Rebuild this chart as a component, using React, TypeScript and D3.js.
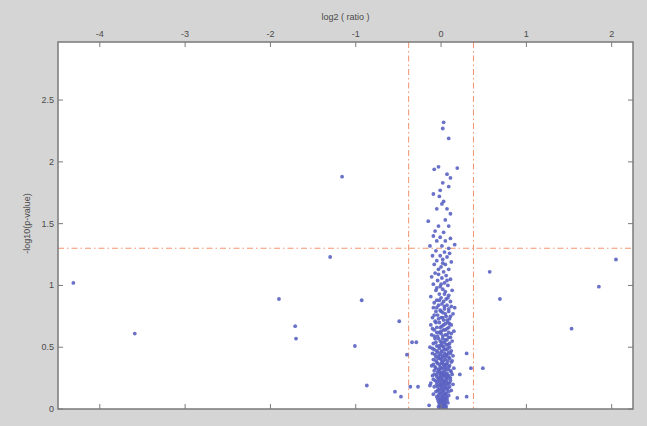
import React from "react";
import * as d3 from "d3";

const xTicks = [-4, -3, -2, -1, 0, 1, 2];
const yTicks = [0, 0.5, 1, 1.5, 2, 2.5];
const xTickLabels = ["-4", "-3", "-2", "-1", "0", "1", "2"];
const yTickLabels = ["0", "0.5", "1", "1.5", "2", "2.5"];
const foldCut = 0.38;
const pCut = 1.301;

const outliers: [number, number][] = [
  [-4.31, 1.02], [-3.59, 0.61], [-1.9, 0.89], [-1.71, 0.67], [-1.7, 0.57], [-1.3, 1.23],
  [-1.16, 1.88], [-0.93, 0.88], [-1.01, 0.51], [-0.87, 0.19], [-0.54, 0.14], [-0.49, 0.71],
  [-0.4, 0.44], [-0.34, 0.54], [-0.29, 0.54], [-0.47, 0.1], [-0.36, 0.18], [-0.27, 0.18],
  [-0.14, 0.03], [-0.13, 0.19], [2.05, 1.21], [1.85, 0.99], [1.53, 0.65], [0.69, 0.89],
  [0.57, 1.11], [0.3, 0.45], [0.35, 0.33], [0.49, 0.33], [0.22, 0.28], [0.3, 0.1],
  [0.19, 0.09], [0.16, 0.82],
];

const clusterHigh: [number, number][] = [
  [0.03, 2.32], [0.02, 2.27], [0.09, 2.19], [-0.08, 1.94], [-0.03, 1.96], [0.19, 1.95],
  [0.07, 1.9], [0.11, 1.87], [0.02, 1.83], [0.09, 1.8], [-0.01, 1.77], [-0.09, 1.74],
  [-0.02, 1.72], [0.03, 1.68], [0.01, 1.66], [-0.05, 1.62], [0.07, 1.62], [0.11, 1.58],
  [0.05, 1.53], [-0.15, 1.52], [-0.03, 1.48], [0.09, 1.48], [-0.07, 1.44], [0.03, 1.43],
  [-0.09, 1.4], [-0.01, 1.39], [0.11, 1.38], [-0.05, 1.36], [0.05, 1.36], [0.16, 1.33],
  [-0.13, 1.32], [0.01, 1.32], [0.09, 1.3],
];

const clusterMid: [number, number][] = [
  [-0.06, 1.28], [0.04, 1.27], [0.1, 1.26], [-0.1, 1.24], [-0.01, 1.24], [0.07, 1.23],
  [0.02, 1.21], [-0.05, 1.2], [0.12, 1.19], [-0.08, 1.17], [0.05, 1.17], [0.0, 1.15],
  [-0.03, 1.13], [0.09, 1.13], [0.03, 1.11], [-0.07, 1.1], [0.06, 1.08], [-0.11, 1.07],
  [0.01, 1.06], [0.11, 1.05], [-0.04, 1.04], [0.04, 1.02], [-0.09, 1.01], [0.08, 1.0],
  [-0.01, 0.99], [0.02, 0.97], [-0.06, 0.96], [0.13, 0.96], [0.05, 0.95], [-0.02, 0.93],
  [0.09, 0.92], [-0.12, 0.91], [0.0, 0.9], [0.06, 0.89], [-0.05, 0.88], [0.03, 0.87],
  [0.11, 0.87], [-0.08, 0.86],
  [0.02, 1.18], [-0.03, 1.09], [0.07, 1.04], [0.0, 1.01], [-0.05, 0.98], [0.04, 0.93],
  [0.08, 0.9], [-0.02, 0.88],
];

const clusterLow: [number, number][] = [
  [0.01, 0.85], [-0.03, 0.84], [0.07, 0.84], [0.12, 0.83], [-0.09, 0.82], [0.04, 0.81],
  [-0.01, 0.8], [0.09, 0.79], [-0.06, 0.79], [0.02, 0.78], [0.14, 0.77], [-0.04, 0.76],
  [0.06, 0.75], [-0.1, 0.74], [0.0, 0.74], [0.1, 0.73], [0.03, 0.72], [-0.07, 0.71],
  [0.08, 0.7], [-0.02, 0.7], [0.05, 0.69], [-0.12, 0.68], [0.12, 0.68], [0.01, 0.67],
  [-0.05, 0.66], [0.07, 0.65], [-0.08, 0.64], [0.03, 0.64], [0.15, 0.63], [-0.02, 0.62],
  [0.09, 0.62], [0.0, 0.61], [-0.11, 0.6], [0.05, 0.6], [-0.04, 0.59], [0.11, 0.58],
  [0.02, 0.57], [-0.07, 0.57], [0.07, 0.56], [-0.01, 0.55], [0.13, 0.55], [0.04, 0.54],
  [-0.09, 0.53], [0.0, 0.52], [0.08, 0.52], [-0.05, 0.51], [0.03, 0.5], [0.1, 0.5],
  [-0.13, 0.5],
  [-0.02, 0.49], [0.06, 0.48], [-0.08, 0.48], [0.12, 0.47], [0.01, 0.47], [-0.04, 0.46],
  [0.09, 0.46], [0.04, 0.45], [-0.1, 0.45], [-0.01, 0.44], [0.07, 0.44], [0.14, 0.43],
  [0.02, 0.43], [-0.06, 0.42], [0.05, 0.42], [-0.03, 0.41], [0.1, 0.41], [0.0, 0.4],
  [-0.09, 0.4], [0.08, 0.39], [0.03, 0.39], [-0.05, 0.38], [0.12, 0.38], [0.01, 0.37],
  [-0.02, 0.36], [0.06, 0.36], [-0.11, 0.35], [0.04, 0.35], [0.09, 0.34], [-0.07, 0.34],
  [0.0, 0.33], [0.15, 0.33], [-0.03, 0.32], [0.05, 0.32], [0.11, 0.31], [-0.08, 0.31],
  [0.02, 0.3], [-0.01, 0.29], [0.07, 0.29], [-0.05, 0.28], [0.13, 0.28], [0.03, 0.27],
  [-0.1, 0.27], [0.09, 0.26], [0.0, 0.26], [-0.03, 0.25], [0.06, 0.25], [0.01, 0.24],
  [-0.07, 0.23], [0.11, 0.23], [0.04, 0.22], [-0.02, 0.22], [0.08, 0.21], [-0.12, 0.21],
  [0.02, 0.2], [-0.05, 0.2], [0.14, 0.2],
  [0.05, 0.19], [-0.01, 0.19], [0.1, 0.18], [-0.08, 0.18], [0.03, 0.17], [0.0, 0.16],
  [0.07, 0.16], [-0.04, 0.15], [0.12, 0.15], [0.02, 0.14], [-0.02, 0.13], [0.06, 0.13],
  [-0.09, 0.12], [0.04, 0.12], [0.09, 0.11], [0.01, 0.11], [-0.05, 0.1], [0.03, 0.09],
  [0.07, 0.09], [-0.01, 0.08], [0.05, 0.08], [0.0, 0.07], [-0.03, 0.06], [0.04, 0.06],
  [0.08, 0.05], [0.02, 0.05], [-0.02, 0.04], [0.01, 0.03], [0.05, 0.03], [-0.01, 0.02],
  [0.03, 0.02], [0.0, 0.01], [0.04, 0.01], [0.02, 0.0], [-0.02, 0.0], [0.06, 0.0],
];

const clusterDense: [number, number][] = [
  [0.04, 0.83], [-0.05, 0.82], [0.09, 0.81], [0.0, 0.79], [0.05, 0.77], [-0.08, 0.76],
  [0.11, 0.75], [0.02, 0.74], [-0.03, 0.73], [0.07, 0.72], [-0.06, 0.7], [0.1, 0.69],
  [0.03, 0.68], [-0.01, 0.66], [0.09, 0.66], [-0.1, 0.65], [0.05, 0.64], [0.0, 0.63],
  [-0.05, 0.62], [0.12, 0.61], [0.07, 0.6], [0.02, 0.59], [-0.08, 0.59], [0.09, 0.58],
  [-0.03, 0.57], [0.05, 0.56], [0.01, 0.54], [-0.06, 0.54], [0.1, 0.53], [0.06, 0.52],
  [-0.02, 0.51], [0.02, 0.51], [-0.1, 0.49], [0.08, 0.49], [0.04, 0.48], [-0.05, 0.47],
  [0.0, 0.46], [0.11, 0.45], [0.06, 0.44], [-0.07, 0.44], [0.02, 0.42], [-0.03, 0.43],
  [0.09, 0.42], [-0.01, 0.41], [0.05, 0.4], [-0.06, 0.39], [0.13, 0.39], [0.01, 0.38],
  [0.07, 0.37], [-0.04, 0.37], [0.03, 0.36], [-0.09, 0.36], [0.1, 0.35], [-0.01, 0.34],
  [0.05, 0.34], [0.02, 0.33], [-0.06, 0.33], [0.08, 0.32], [-0.02, 0.31], [0.04, 0.3],
  [-0.04, 0.3], [0.12, 0.3], [0.0, 0.29], [0.06, 0.28], [-0.08, 0.28], [0.03, 0.28],
  [0.09, 0.27], [-0.01, 0.27], [0.05, 0.26], [-0.05, 0.26], [0.01, 0.25], [0.11, 0.25],
  [0.07, 0.24], [-0.03, 0.24], [0.03, 0.23], [-0.09, 0.24], [0.0, 0.22], [0.06, 0.22],
  [-0.05, 0.22], [0.1, 0.21], [0.03, 0.21], [-0.01, 0.2], [0.07, 0.2], [0.01, 0.18],
  [-0.04, 0.18], [0.05, 0.17], [0.08, 0.17], [-0.02, 0.16], [0.03, 0.15], [0.09, 0.14],
  [-0.06, 0.14], [0.0, 0.13], [0.05, 0.12], [-0.03, 0.11], [0.02, 0.1], [0.06, 0.1],
  [-0.01, 0.09], [0.04, 0.08], [0.01, 0.07], [0.07, 0.07], [-0.04, 0.08], [0.02, 0.06],
  [0.05, 0.05], [-0.01, 0.05], [0.03, 0.04], [0.0, 0.03], [0.06, 0.02], [0.02, 0.02],
  [-0.03, 0.02], [0.04, 0.0], [0.0, 0.0], [0.01, 0.01],
];

const W = 647;
const H = 426;
const left = 58;
const right = 633;
const top = 42;
const bottom = 409;

export default function App() {
  const x = d3.scaleLinear().domain([-4.49, 2.25]).range([left, right]);
  const y = d3.scaleLinear().domain([0, 2.97]).range([bottom, top]);
  const pts = [...outliers, ...clusterHigh, ...clusterMid, ...clusterLow, ...clusterDense];
  const axisColor = "#7a7a7a";
  const textColor = "#4a4a4a";
  const font = "Liberation Sans, Arial, sans-serif";
  const tl = 5;
  const dash = "#f2946f";
  return (
    <div style={{ position: "fixed", left: 0, top: 0 }}>
      <svg width={W} height={H} style={{ display: "block" }}>
        <rect x={0} y={0} width={W} height={H} fill="#d5d5d5" />
        <rect x={left} y={top} width={right - left} height={bottom - top} fill="#ffffff" />
        <defs>
          <clipPath id="plot">
            <rect x={left} y={top} width={right - left} height={bottom - top} />
          </clipPath>
        </defs>
        <g clipPath="url(#plot)">
          <line x1={left} x2={right} y1={y(pCut)} y2={y(pCut)} stroke={dash} strokeWidth={1} strokeDasharray="6,3,1.5,3" />
          <line x1={x(-foldCut)} x2={x(-foldCut)} y1={top} y2={bottom} stroke={dash} strokeWidth={1} strokeDasharray="6,3,1.5,3" />
          <line x1={x(foldCut)} x2={x(foldCut)} y1={top} y2={bottom} stroke={dash} strokeWidth={1} strokeDasharray="6,3,1.5,3" />
          {pts.map((p, i) => (
            <circle key={i} cx={x(p[0])} cy={y(p[1])} r={1.9} fill="#5a62c2" fillOpacity={0.9} />
          ))}
        </g>
        <rect x={left} y={top} width={right - left} height={bottom - top} fill="none" stroke={axisColor} strokeWidth={1.5} />
        {xTicks.map((t, i) => (
          <g key={"xt" + i}>
            <line x1={x(t)} x2={x(t)} y1={top} y2={top + tl} stroke={axisColor} />
            <line x1={x(t)} x2={x(t)} y1={bottom} y2={bottom - tl} stroke={axisColor} />
            <text x={x(t)} y={top - 5} textAnchor="middle" fontSize={9} fill={textColor} fontFamily={font}>
              {xTickLabels[i]}
            </text>
          </g>
        ))}
        {yTicks.map((t, i) => (
          <g key={"yt" + i}>
            <line x1={left} x2={left + tl} y1={y(t)} y2={y(t)} stroke={axisColor} />
            <line x1={right} x2={right - tl} y1={y(t)} y2={y(t)} stroke={axisColor} />
            <text x={left - 4} y={y(t) + 3} textAnchor="end" fontSize={9} fill={textColor} fontFamily={font}>
              {yTickLabels[i]}
            </text>
          </g>
        ))}
        <text x={(left + right) / 2} y={20} textAnchor="middle" fontSize={9} fill={textColor} fontFamily={font}>
          log2 ( ratio )
        </text>
        <text
          transform={`translate(30,${(top + bottom) / 2 - 2}) rotate(-90)`}
          textAnchor="middle"
          fontSize={9}
          fill={textColor}
          fontFamily={font}
        >
          -log10(p-value)
        </text>
      </svg>
    </div>
  );
}
